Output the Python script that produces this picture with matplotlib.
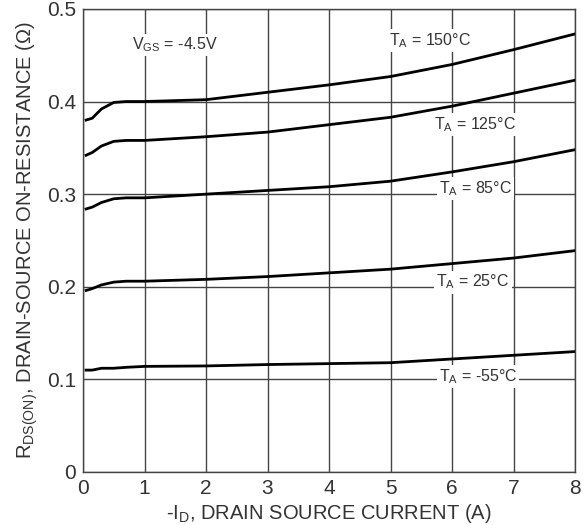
import matplotlib.pyplot as plt

plt.rcParams['font.family'] = ['Liberation Sans', 'DejaVu Sans']
plt.rcParams['mathtext.fontset'] = 'custom'
plt.rcParams['mathtext.rm'] = 'Liberation Sans'

# drain current (A)
current = [0.05, 0.15, 0.3, 0.5, 0.7, 1, 2, 3, 4, 5, 6, 7, 8]

# on-resistance (ohm) for each ambient temperature
r_150 = [0.380, 0.382, 0.392, 0.399, 0.400, 0.400, 0.402, 0.410, 0.418, 0.427, 0.440, 0.456, 0.473]
r_125 = [0.342, 0.345, 0.352, 0.357, 0.358, 0.358, 0.362, 0.367, 0.375, 0.383, 0.395, 0.409, 0.423]
r_85 = [0.284, 0.286, 0.291, 0.295, 0.296, 0.296, 0.300, 0.304, 0.308, 0.314, 0.324, 0.335, 0.348]
r_25 = [0.196, 0.198, 0.202, 0.205, 0.206, 0.206, 0.208, 0.211, 0.215, 0.219, 0.225, 0.231, 0.239]
r_m55 = [0.110, 0.110, 0.112, 0.112, 0.113, 0.114, 0.1145, 0.116, 0.117, 0.118, 0.122, 0.126, 0.130]

curves = [r_150, r_125, r_85, r_25, r_m55]
labels = ['150', '125', '85', '25', '-55']
label_x = [5.64, 6.38, 6.38, 6.34, 6.42]
label_y = [0.466, 0.375, 0.306, 0.205, 0.103]

fig = plt.figure(figsize=(5.83, 5.25), dpi=100)
ax = fig.add_axes([0.1424, 0.101, 0.8439, 0.882])

for r in curves:
    ax.plot(current, r, color='black', linewidth=2.0, zorder=3)

ax.set_xlim(0, 8)
ax.set_ylim(0, 0.5)
ax.set_xticks(range(0, 9))
ax.set_yticks([0, 0.1, 0.2, 0.3, 0.4, 0.5])
ax.set_yticklabels(['0', '0.1', '0.2', '0.3', '0.4', '0.5'])
ax.grid(True, color='#444444', linewidth=1.0)
ax.tick_params(length=0, labelsize=15, colors='#333333', pad=5)
for s in ax.spines.values():
    s.set_color('#444444')
    s.set_linewidth(1.0)

for name, lx, ly in zip(labels, label_x, label_y):
    ax.text(lx, ly, r'T$_{\mathregular{A}}$ = ' + name + '°C', fontsize=11.5, ha='center', va='center',
            color='#333333', zorder=4,
            bbox=dict(facecolor='white', edgecolor='none', pad=1.5))

ax.text(1.5, 0.461, r'V$_{\mathregular{GS}}$ = -4.5V', fontsize=11.5, ha='center', va='center',
        color='#333333', zorder=4, bbox=dict(facecolor='white', edgecolor='none', pad=1.5))

ax.set_xlabel(r'-I$_{\mathregular{D}}$, DRAIN SOURCE CURRENT (A)', fontsize=14.5, color='#333333', labelpad=3)
ax.set_ylabel(r'R$_{\mathregular{DS(ON)}}$, DRAIN-SOURCE ON-RESISTANCE (Ω)', fontsize=14.5, color='#333333', labelpad=5)

fig.savefig('out.png', dpi=100)
